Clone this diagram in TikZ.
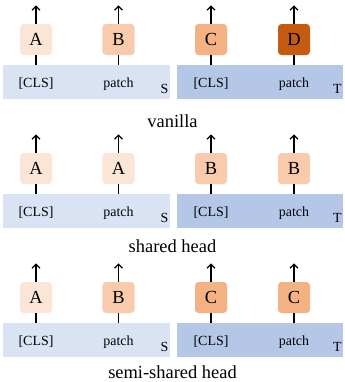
\documentclass[tikz,border=0pt]{standalone}
\usepackage{fontspec}
\setmainfont{Liberation Serif}
\usetikzlibrary{arrows.meta}
\definecolor{barS}{HTML}{DAE3F3}
\definecolor{barT}{HTML}{B4C7E7}
\definecolor{hA}{HTML}{FBE5D6}
\definecolor{hB}{HTML}{F8CBAD}
\definecolor{hC}{HTML}{F4B183}
\definecolor{hD}{HTML}{C55A11}
\tikzset{
  headbox/.style={rounded corners=3.5bp, minimum width=32bp, minimum height=31bp, inner sep=0pt, font=\fontsize{18.5}{20}\selectfont},
  barbox/.style={minimum height=34bp, inner sep=0pt, anchor=north west},
  tok/.style={anchor=base, inner sep=0pt, font=\fontsize{14}{16}\selectfont},
  captext/.style={anchor=base, inner sep=0pt, font=\fontsize{18.5}{20}\selectfont},
  outarrow/.style={line width=1.3bp, -{Straight Barb[length=4bp,width=8bp]}},
  inline/.style={line width=1.3bp}
}
\begin{document}
\begin{tikzpicture}[x=1bp,y=-1bp]
\useasboundingbox (0,0) rectangle (345,382);
\foreach \r/\la/\ca/\lb/\cb/\lc/\cc/\ld/\cd/\tx/\ty in {
  0/A/hA/B/hB/C/hC/D/hD/vanilla/127.5,
  1/A/hA/A/hA/B/hB/B/hB/shared head/252,
  2/A/hA/B/hB/C/hC/C/hC/semi-shared head/378.5}{
  \pgfmathsetmacro{\oy}{129*\r}
  \node[barbox, fill=barS, minimum width=167bp] (s\r) at (3,65+\oy) {};
  \node[barbox, fill=barT, minimum width=166bp] (t\r) at (177,65+\oy) {};
  \node[headbox, fill=\ca] (a\r) at (36,39.5+\oy) {\la};
  \node[headbox, fill=\cb] (b\r) at (118.5,39.5+\oy) {\lb};
  \node[headbox, fill=\cc] (c\r) at (211,39.5+\oy) {\lc};
  \node[headbox, fill=\cd] (d\r) at (294,39.5+\oy) {\ld};
  \foreach \h in {a,b,c,d}{
    \coordinate (\h\r top) at ([yshift=18.5bp]\h\r.north);
    \draw[outarrow] (\h\r.north) -- (\h\r top);
  }
  \draw[inline] (a\r.south) -- (a\r.south |- s\r.north);
  \draw[inline] (b\r.south) -- (b\r.south |- s\r.north);
  \draw[inline] (c\r.south) -- (c\r.south |- t\r.north);
  \draw[inline] (d\r.south) -- (d\r.south |- t\r.north);
  \node[tok] (sc\r) at (36,87+\oy) {[CLS]};
  \node[tok] (sp\r) at (118.5,87+\oy) {patch};
  \node[tok] (sl\r) at (164.5,93.3+\oy) {S};
  \node[tok] (tc\r) at (211,87+\oy) {[CLS]};
  \node[tok] (tp\r) at (294,87+\oy) {patch};
  \node[tok] (tl\r) at (337.5,93.3+\oy) {T};
  \node[captext] (cap\r) at (172.5,\ty) {\tx};
}
\end{tikzpicture}
\end{document}
